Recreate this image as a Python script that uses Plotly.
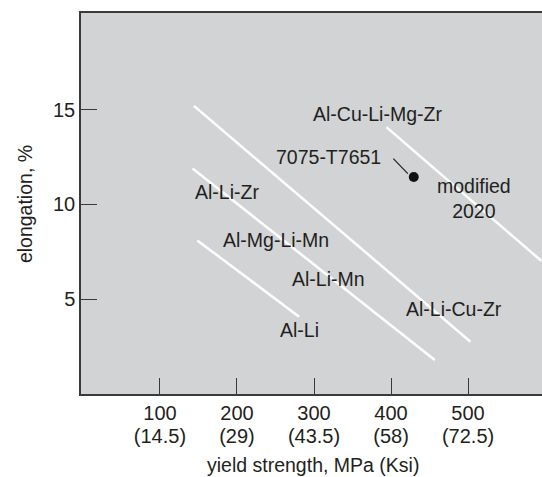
import plotly.graph_objects as go

# ---- data ----
trend_names = ["Al-Li", "Al-Li-Zr / Al-Mg-Li-Mn / Al-Li-Mn", "Al-Li-Cu-Zr", "Al-Cu-Li-Mg-Zr / modified 2020"]
trend_x_start = [148.5, 142.3, 144.1, 394.0]
trend_y_start = [8.1, 11.9, 15.2, 14.08]
trend_x_end = [280.6, 456.8, 503.1, 595.0]
trend_y_end = [4.08, 1.79, 2.76, 7.03]

point_name = "7075-T7651"
point_x = [429.5]
point_y = [11.45]
leader_x = [403.0, 421.8]
leader_y = [12.42, 11.63]

label_text = ["Al-Cu-Li-Mg-Zr", "7075-T7651", "modified<br>2020", "Al-Li-Zr",
              "Al-Mg-Li-Mn", "Al-Li-Mn", "Al-Li-Cu-Zr", "Al-Li"]
label_x = [382.4, 318.9, 507.2, 186.5, 251.0, 319.3, 481.6, 281.8]
label_y = [14.78, 12.51, 10.3, 10.64, 8.14, 6.06, 4.47, 3.38]

x_tick_vals = [100, 200, 300, 400, 500]
x_tick_mpa = ["100", "200", "300", "400", "500"]
x_tick_ksi = ["(14.5)", "(29)", "(43.5)", "(58)", "(72.5)"]
y_tick_vals = [5, 10, 15]
y_tick_text = ["5", "10", "15"]

x_title = "yield strength, MPa (Ksi)"
y_title = "elongation, %"

FONT = "Liberation Sans, Arimo, Arial, sans-serif"
TXT = "#231f20"
BG = "#d1d3d4"
AX = "#3a3a3a"
X_RANGE = [-2.5, 596]

fig = go.Figure()
for i, name in enumerate(trend_names):
    fig.add_trace(go.Scatter(
        x=[trend_x_start[i], trend_x_end[i]], y=[trend_y_start[i], trend_y_end[i]],
        mode="lines", line=dict(color="white", width=2.5), name=name,
        showlegend=False, hoverinfo="skip"))

fig.add_trace(go.Scatter(x=leader_x, y=leader_y, mode="lines",
                         line=dict(color=TXT, width=1.2), showlegend=False, hoverinfo="skip"))
fig.add_trace(go.Scatter(x=point_x, y=point_y, mode="markers", name=point_name,
                         marker=dict(color="#111111", size=10), showlegend=False))
# invisible trace to activate second x axis (Ksi tick line)
fig.add_trace(go.Scatter(x=[X_RANGE[0]], y=[0], xaxis="x2", mode="markers",
                         marker=dict(opacity=0), showlegend=False, hoverinfo="skip"))

for t, x, y in zip(label_text, label_x, label_y):
    fig.add_annotation(x=x, y=y, xref="x", yref="y", text=t, showarrow=False,
                       font=dict(family=FONT, size=19.5, color=TXT), align="center")

fig.add_annotation(x=0.504, y=-0.186, xref="paper", yref="paper", text=x_title,
                   showarrow=False, font=dict(family=FONT, size=19.5, color=TXT),
                   xanchor="center", yanchor="middle")
fig.add_annotation(x=-0.121, y=0.499, xref="paper", yref="paper", text=y_title,
                   textangle=-90, showarrow=False, font=dict(family=FONT, size=19.5, color=TXT),
                   xanchor="center", yanchor="middle")

fig.update_layout(
    width=542, height=477,
    margin=dict(l=81, r=0, t=13, b=83),
    paper_bgcolor="white", plot_bgcolor=BG,
    font=dict(family=FONT, size=20, color=TXT),
    showlegend=False,
    xaxis=dict(range=X_RANGE, tickvals=x_tick_vals, ticktext=x_tick_mpa,
               ticks="inside", ticklen=16, tickwidth=1, tickcolor=AX,
               showgrid=False, zeroline=False, showline=True, linecolor=AX, linewidth=1.5,
               mirror=True, tickfont=dict(family=FONT, size=20, color=TXT), ticklabelstandoff=0),
    xaxis2=dict(range=X_RANGE, overlaying="x", side="bottom", anchor="y",
                tickvals=x_tick_vals, ticktext=x_tick_ksi, ticks="", showline=False,
                showgrid=False, zeroline=False,
                tickfont=dict(family=FONT, size=20, color=TXT), ticklabelstandoff=28),
    yaxis=dict(range=[0, 20.1], tickvals=y_tick_vals, ticktext=y_tick_text,
               ticks="inside", ticklen=16, tickwidth=1, tickcolor=AX,
               showgrid=False, zeroline=False, showline=True, linecolor=AX, linewidth=1.5,
               tickfont=dict(family=FONT, size=20, color=TXT)),
)

fig.write_html("out.html", config={"displayModeBar": False},
               post_script="document.body.style.margin='0';document.body.style.overflow='hidden';")
